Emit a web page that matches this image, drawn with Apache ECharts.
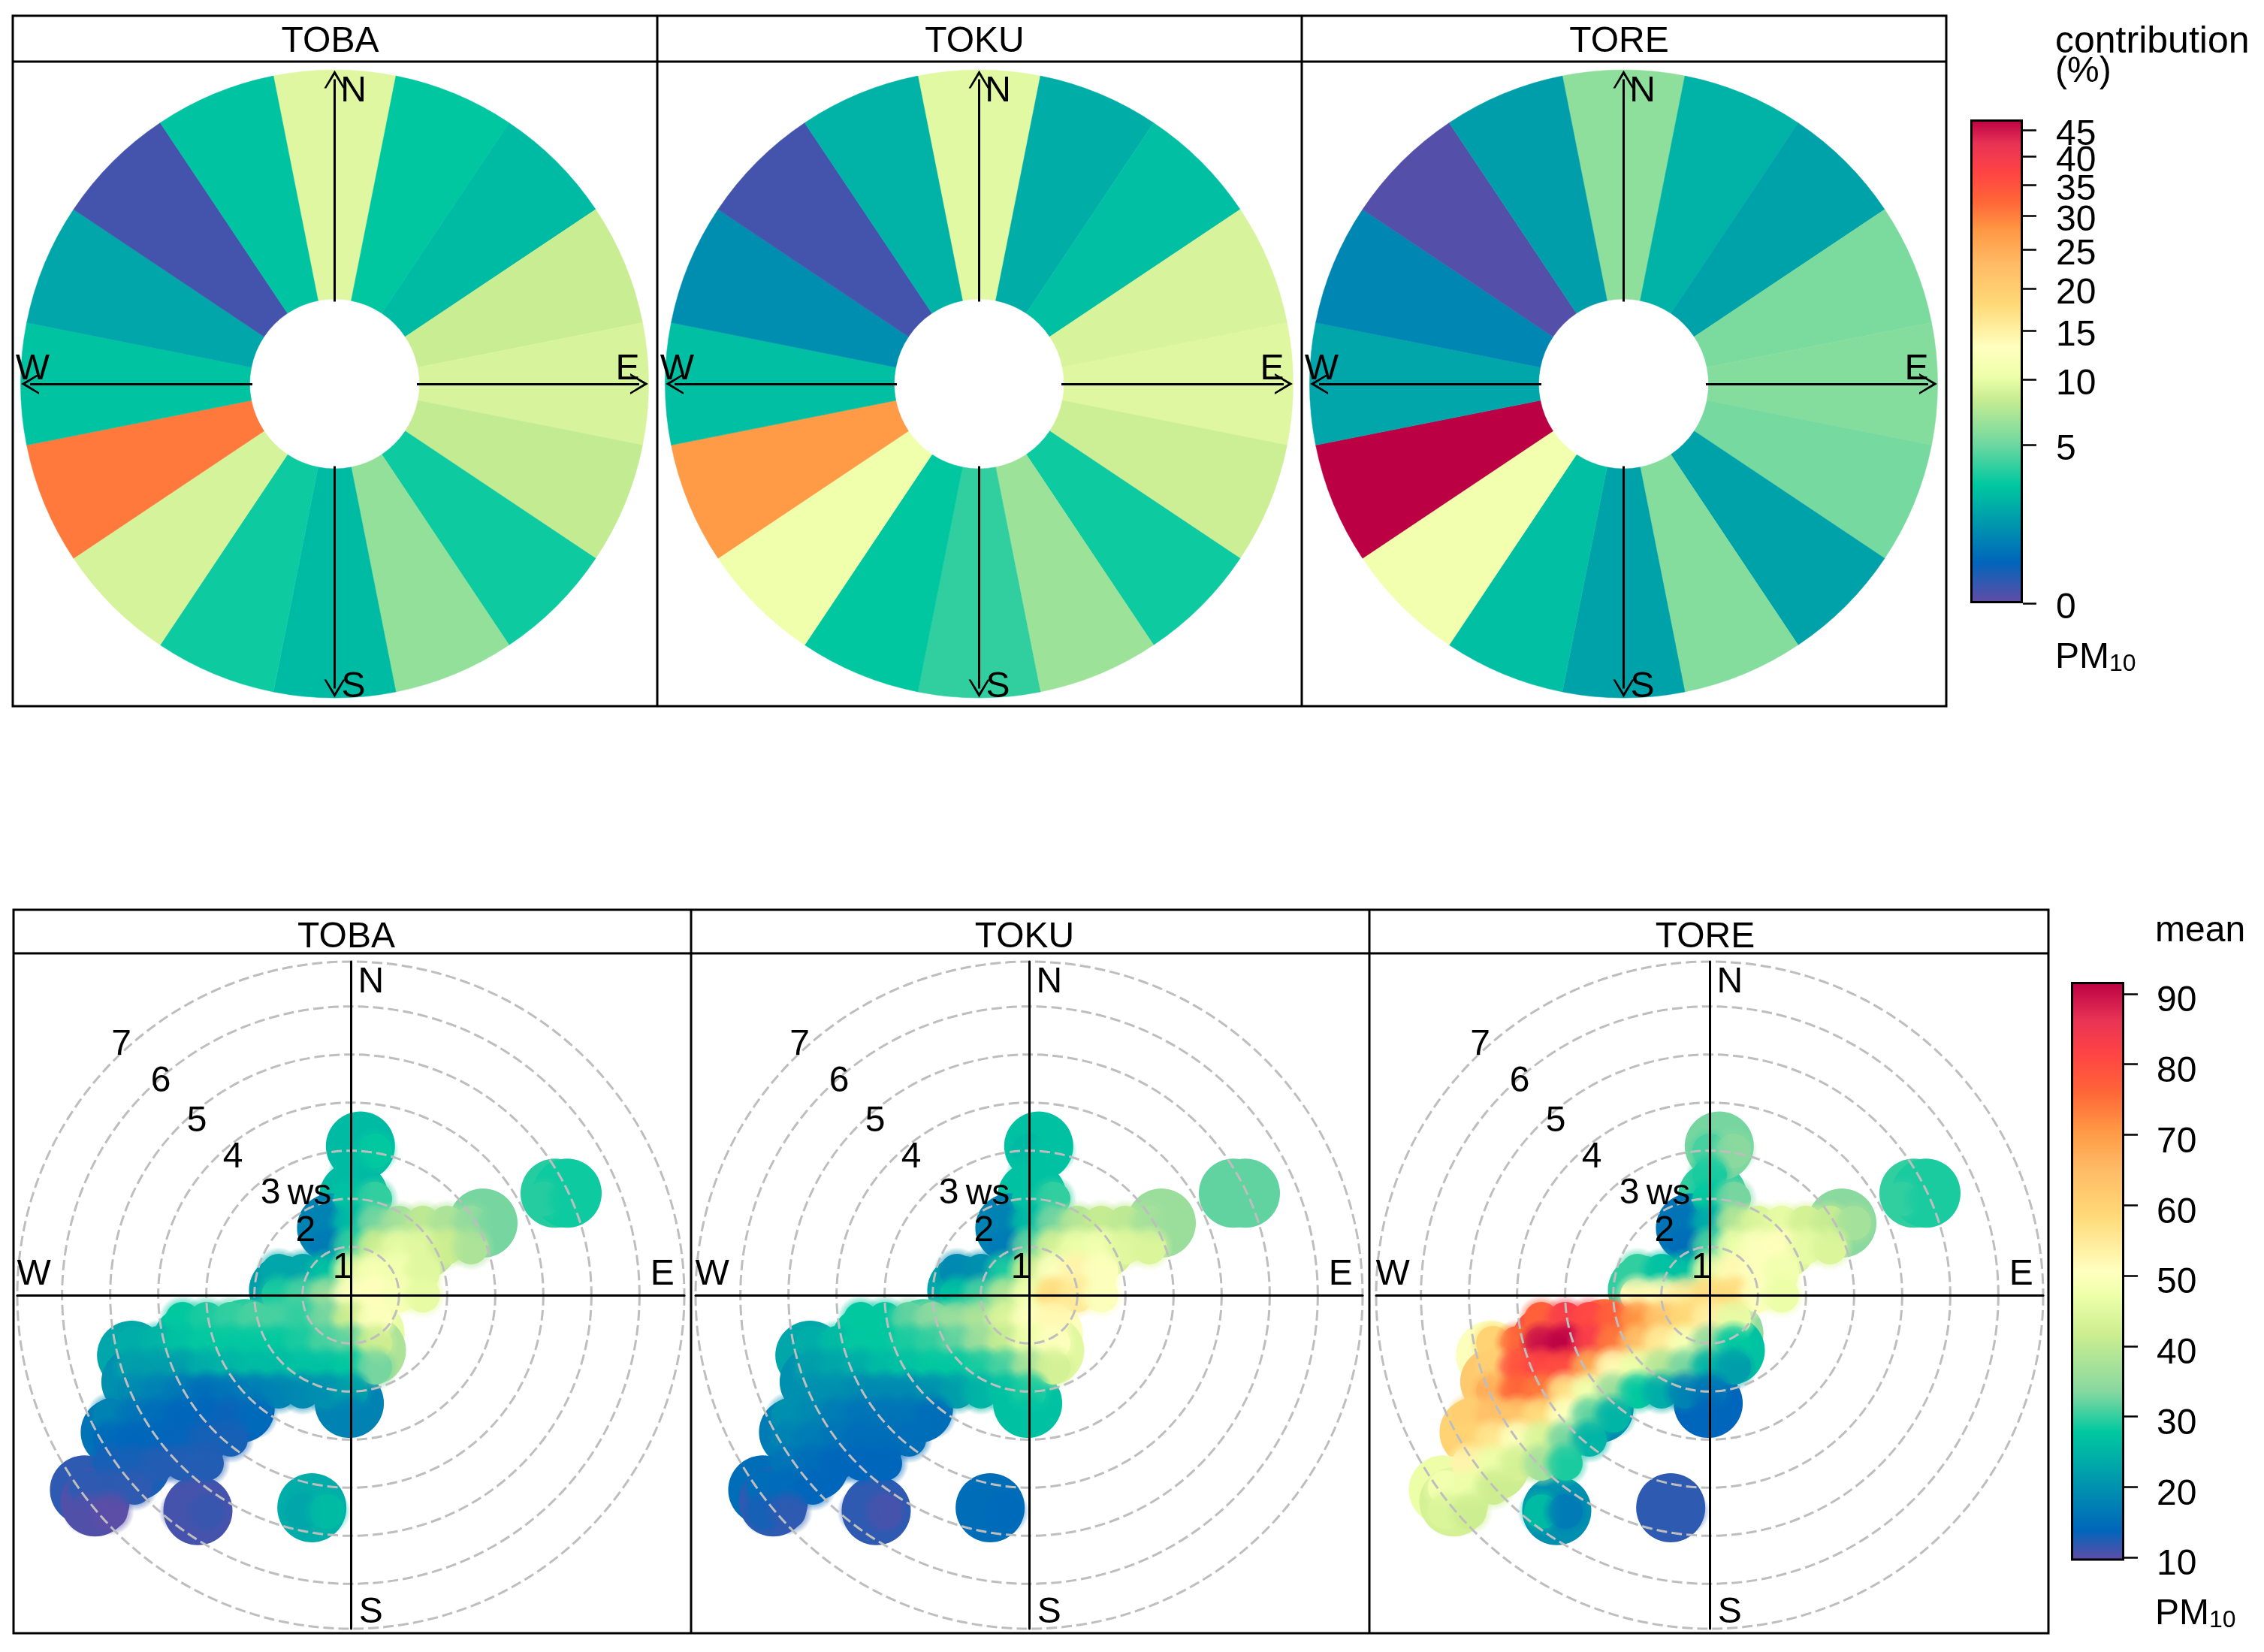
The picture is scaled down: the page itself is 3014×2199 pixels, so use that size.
<!DOCTYPE html>
<html><head><meta charset="utf-8">
<style>html,body{margin:0;padding:0;background:#fff}#c{width:3014px;height:2199px}</style>
<script src="https://cdn.jsdelivr.net/npm/echarts@6/dist/echarts.min.js"></script>
</head><body><div id="c"></div>
<script>
// ---------- data ----------
const sites = ['TOBA','TOKU','TORE'];
const directions = ['N','NNE','NE','ENE','E','ESE','SE','SSE','S','SSW','SW','WSW','W','WNW','NW','NNW'];
const contribTOBA = [9.5,3.7,3.4,8.5,9.2,8.3,3.9,6.4,3.4,3.9,9.1,30.5,3.6,2.9,0.4,3.6];
const contribTOKU = [9.7,3.1,3.5,9.2,9.5,8.7,3.9,6.8,4.3,3.7,10.5,27.5,3.5,2.3,0.4,3.2];
const contribTORE = [6.2,3.2,2.8,5.5,5.9,5.3,2.8,5.9,2.8,3.5,11,46,2.9,2.1,0.2,2.7];
const contribTicks = [0,5,10,15,20,25,30,35,40,45];
const contribTickFrac = [0,.328,.463,.564,.651,.731,.801,.865,.924,.978];
const meanTicks = [10,20,30,40,50,60,70,80,90];

// polar-plot bins [u, v] in wind-speed units (shared outline of all three panels)
const binPos = [[4.25,2.12],[4.5,2.12],[2.75,1.5],[1.5,1.05],[.06,2.05],[.2,3.1],[-.4,1.4],[-1.4,.1],[.4,.1],[1.13,.5],[.4,-.8],[.43,-1.15],[-.03,-2.25],[-3.4,-.95],[-4.56,-1.25],[-2.2,-.8],[-1.28,-.8],[-2.3,-2.35],[-3.27,-2.95],[-4.47,-3.55],[-4.9,-2.85],[-4.47,-1.8],[-5.54,-4.05],[-5.32,-4.3],[-3.18,-4.48],[-.81,-4.42]];
const binTOBA = [29.5,28.5,33,40,26,26,18,22,48,46,46,38,18,27,23,29,30,14,13.5,13,16,20,12,10.5,11,24];
const binTOKU = [32,32,36,42,27,27,18,23,50,50,50,45,27,28,23,30,33,15,15,14,17,20,15,12,12,15];
const binTORE = [30,29,34,44,30,33,16,30,55,47,35,27,14,80,50,75,60,18,28,42,60,62,47,43,20,12];

// rows of interior cells: [v, first u, values at 0.5 steps]
const rowsTOBA = [
[3,0,[26,28]],[2.5,0,[26]],[2,0,[27,30]],
[1.5,-.5,[18,26,33,37,40,38,35,33]],
[1,-.5,[17,30,42,46,45,42,38]],
[.5,-1.5,[23,23,27,45,49,48,45]],
[0,-1.5,[29,31,36,50,51,49,46]],
[-.5,-3.5,[28,29,30,31,31,30,33,42,50]],
[-1,-4.5,[24,25,27,28,28,28,28,29,31,32,42]],
[-1.5,-4.5,[22,22,22,24,25,26,26,27,27,28,33]],
[-2,-4.5,[19,18,16.5,15,16,17,18,19,20,22]],
[-2.5,-5,[18,16,15,14,14,13.5,14.5]],[-2.5,0,[18]],
[-3,-5,[14.5,14,14,13.8,13,13]],
[-3.5,-5,[13,13,12.5,12.5,12.5]],
[-4,-5.5,[12,12,12]],
[-4.5,-5.5,[10.5,10]],[-4.5,-3.5,[11,11.5]],[-4.5,-1,[23,26]],
[2,4,[29.5,28.5]]];
const rowsTOKU = [
[3,0,[26,27]],[2.5,0,[27]],[2,0,[27,30]],
[1.5,-.5,[18,26,33,39,41,40,37,36]],
[1,-.5,[17,32,43,47,48,45,44]],
[.5,-1.5,[19,20,29,42,50,53,50]],
[0,-1.5,[27,31,39,48,58,55,50]],
[-.5,-3.5,[28,28,32,34,36,38,44,50,52]],
[-1,-4.5,[24,26,28,28,29,30,32,36,41,47,50]],
[-1.5,-4.5,[22,23,24,26,27,28,28,29,31,37,43]],
[-2,-4.5,[20,20,19,19,19,20,22,25,27,29]],
[-2.5,-5,[20,19,17,16,16,16,15]],[-2.5,0,[27]],
[-3,-5,[18,17,16,15,15,15]],
[-3.5,-5,[16,15,14,14,14]],
[-4,-5.5,[15,14.5,14]],
[-4.5,-5.5,[13,12]],[-4.5,-3.5,[12,11]],[-4.5,-1,[15,14.5]],
[2,4,[32,32]]];
const rowsTORE = [
[3,0,[31,34]],[2.5,0,[29]],[2,0,[28,33]],
[1.5,-.5,[16,24,39,44,46,43,41,37]],
[1,-.5,[15,31,47,50,51,46,44]],
[.5,-1.5,[30,27,27,46,52,50,48]],
[0,-1.5,[52,52,55,58,58,50,47]],
[-.5,-3.5,[77,83,81,77,71,63,59,54,46]],
[-1,-4.5,[60,76,90,91.5,83,74,64,55,49,35,28]],
[-1.5,-4.5,[61,79,81,80,68,52,47,39,33,25,22]],
[-2,-4.5,[67,76,74,57,48,36,28,24,18,16]],
[-2.5,-5,[61,64,63,58,50,32,25]],[-2.5,0,[14]],
[-3,-5,[60,56,50,44,33,25]],
[-3.5,-5,[53,47,43,37,29]],
[-4,-5.5,[48,47,42]],
[-4.5,-5.5,[44,42]],[-4.5,-3.5,[26,17]],[-4.5,-1,[12,12]],
[2,4,[30,29]]];

const topCompass = [[.06,.93,'N'],[.06,-.967,'S'],[-.962,.047,'W'],[.933,.047,'E']];
const botCompass = [[.42,6.5,'N'],[.42,-6.61,'S'],[-6.59,.42,'W'],[6.48,.42,'E']];
const ringLabels = [[-4.77,5.2,'7'],[-3.95,4.44,'6'],[-3.2,3.61,'5'],[-2.45,2.86,'4'],[-1.67,2.11,'3'],[-.86,2.1,'ws'],[-.94,1.33,'2'],[-.17,.56,'1']];
const arrowEnds = [[.97,0],[-.97,0],[0,.97],[0,-.97]];
const arrowStart = .27;

// colour ramps: [position along bar, colour]
const topRamp = [[0,'#634BA5'],[.085,'#0066BB'],[.245,'#00C8A0'],[.33,'#70D8A0'],[.42,'#C6EC92'],[.47,'#EEFFAA'],[.53,'#FFFFBF'],[.62,'#FFD876'],[.70,'#FFBB66'],[.77,'#FF9944'],[.83,'#FF6638'],[.89,'#FF4444'],[.95,'#E83355'],[1,'#BB0044']];
const botRamp = [[0,'#634BA5'],[.052,'#0066BB'],[.222,'#00C8A0'],[.293,'#88D8A0'],[.393,'#CDEE90'],[.459,'#EEFFAA'],[.5,'#FFFFBF'],[.6,'#FFD876'],[.675,'#FFBB66'],[.742,'#FF9944'],[.809,'#FF6638'],[.875,'#FF4444'],[.934,'#E83355'],[1,'#BB0044']];

// ---------- helpers ----------
const FONT = '"Liberation Sans", Arial, sans-serif', FS = 48;
function rampColour(ramp, t){
  t = Math.max(0, Math.min(1, t));
  for (let i = 1; i < ramp.length; i++) if (t <= ramp[i][0]) {
    const [a, ca] = ramp[i-1], [b, cb] = ramp[i], k = (t-a)/(b-a);
    const p = c => [1,3,5].map(j => parseInt(c.substr(j,2),16));
    const A = p(ca), B = p(cb);
    return 'rgb(' + A.map((x,j) => Math.round(x+(B[j]-x)*k)).join(',') + ')';
  }
  return ramp[ramp.length-1][1];
}
function contribColour(v){
  for (let i = 1; i < contribTicks.length; i++) if (v <= contribTicks[i]) {
    const k = (v-contribTicks[i-1])/(contribTicks[i]-contribTicks[i-1]);
    return rampColour(topRamp, contribTickFrac[i-1]+k*(contribTickFrac[i]-contribTickFrac[i-1]));
  }
  return rampColour(topRamp, contribTickFrac[9]+(v-45)*.022);
}
const MEAN_MIN = 9.7, MEAN_MAX = 91.7;
const meanColour = v => rampColour(botRamp, (v-MEAN_MIN)/(MEAN_MAX-MEAN_MIN));
const gradient = ramp => ({type:'linear',x:0,y:1,x2:0,y2:0,colorStops:ramp.map(([o,c])=>({offset:o,color:c}))});
const soft = v => { const c = meanColour(v), a = x => c.replace('rgb','rgba').replace(')',','+x+')');
  return {type:'radial',x:.5,y:.5,r:.5,colorStops:[{offset:0,color:a(1)},{offset:.55,color:a(.75)},{offset:1,color:a(0)}]}; };

// ---------- layout ----------
const topCx = [445.5,1303.5,2161.5], topCy = 511, topR = 418, topIn = 113;
const botCx = [467,1370,2276], botCy = 1724, botR = 444, UNIT = 64;
const topBox = {xs:[17,875,1733,2591], y0:21, y1:82, y2:940};
const botBox = {xs:[18,920,1823,2727], y0:1211, y1:1269, y2:2174};
const contrib = [contribTOBA,contribTOKU,contribTORE];
const bins = [binTOBA,binTOKU,binTORE];
const rows = [rowsTOBA,rowsTOKU,rowsTORE];

const polar=[], angleAxis=[], radiusAxis=[], grid=[], xAxis=[], yAxis=[], series=[], title=[], graphic=[];
const blackText = {color:'#000',fontFamily:FONT,fontSize:FS,fontWeight:'normal'};
const arrowSym = 'path://M10 0 L20 20 L18 20 L10 5 L2 20 L0 20 Z';

sites.forEach((s,i)=>{
  polar.push({center:[topCx[i],topCy],radius:[topIn,topR]});
  angleAxis.push({polarIndex:i,type:'category',data:directions,startAngle:101.25,clockwise:true,boundaryGap:true,show:false});
  radiusAxis.push({polarIndex:i,type:'value',min:0,max:1,show:false});
  series.push({type:'bar',coordinateSystem:'polar',polarIndex:i,barWidth:'100%',barGap:'0%',silent:true,
    data:contrib[i].map((v,k)=>({name:directions[k],contribution:v,value:1,itemStyle:{color:contribColour(v),borderColor:contribColour(v),borderWidth:.5}}))});
  grid.push({left:topCx[i]-418,top:topCy-418,width:836,height:836,show:false});
  xAxis.push({gridIndex:i,type:'value',min:-1,max:1,show:false});
  yAxis.push({gridIndex:i,type:'value',min:-1,max:1,show:false});
  series.push({type:'scatter',xAxisIndex:i,yAxisIndex:i,symbolSize:1,itemStyle:{color:'rgba(0,0,0,0)',opacity:1},silent:true,z:5,
    data:topCompass,label:{show:true,position:'inside',formatter:p=>p.data[2],...blackText},
    markLine:{silent:true,symbol:['none',arrowSym],symbolSize:[28,24],label:{show:false},lineStyle:{color:'#000',width:3,type:'solid',opacity:1},
      data:arrowEnds.map(e=>[{coord:[e[0]*arrowStart,e[1]*arrowStart]},{coord:e}])}});
});
sites.forEach((s,i)=>{
  const gi = i+3, pi = i+3;
  polar.push({center:[botCx[i],botCy],radius:botR});
  angleAxis.push({polarIndex:pi,type:'value',min:0,max:360,show:false});
  radiusAxis.push({polarIndex:pi,type:'value',min:.125,max:7.0625,interval:1,z:6,
    axisLine:{show:false},axisTick:{show:false},axisLabel:{show:false},
    splitLine:{show:true,lineStyle:{color:'#BEBEBE',width:3,type:[14,6]}}});
  grid.push({left:botCx[i]-botR,top:botCy-botR,width:2*botR,height:2*botR,show:false});
  const half = botR/UNIT;
  const axis = {type:'value',min:-half,max:half,splitLine:{show:false},axisTick:{show:false},axisLabel:{show:false},z:7,
    axisLine:{show:true,onZero:true,lineStyle:{color:'#000',width:3}}};
  xAxis.push({gridIndex:gi,...axis});
  yAxis.push({gridIndex:gi,...axis});
  series.push({name:s+' bins',type:'scatter',xAxisIndex:gi,yAxisIndex:gi,symbolSize:92,silent:true,z:2,
    itemStyle:{opacity:1},
    data:binPos.map((p,k)=>({value:[p[0],p[1],bins[i][k]],itemStyle:{color:meanColour(bins[i][k]),opacity:1}}))});
  const cells=[];
  rows[i].forEach(([v,u0,vals])=>vals.forEach((val,k)=>cells.push([u0+k*.5,v,val])));
  series.push({name:s+' cells',type:'scatter',xAxisIndex:gi,yAxisIndex:gi,symbolSize:46,silent:true,z:3,
    itemStyle:{opacity:1},
    data:cells.map(c=>({value:c,itemStyle:{color:meanColour(c[2]),opacity:1}}))});
  series.push({name:s+' blend',type:'scatter',xAxisIndex:gi,yAxisIndex:gi,symbolSize:64,silent:true,z:4,
    itemStyle:{opacity:1},
    data:cells.map(c=>({value:c,itemStyle:{color:soft(c[2]),opacity:1}}))});
  series.push({type:'scatter',xAxisIndex:gi,yAxisIndex:gi,symbolSize:1,itemStyle:{color:'rgba(0,0,0,0)',opacity:1},silent:true,z:8,
    data:botCompass.concat(ringLabels),label:{show:true,position:'inside',formatter:p=>p.data[2],...blackText}});
});
sites.forEach((s,i)=>{
  title.push({text:s,left:topCx[i]-11,top:51,textAlign:'center',textVerticalAlign:'middle',textStyle:blackText});
  title.push({text:s,left:botCx[i]-11,top:1243,textAlign:'center',textVerticalAlign:'middle',textStyle:blackText});
});
const pmRich = {sub:{fontFamily:FONT,fontSize:32,color:'#000',verticalAlign:'bottom',padding:[16,0,0,0]}};
title.push({text:'contribution',left:2731,top:51,textVerticalAlign:'middle',textStyle:{...blackText,fontSize:50}});
[['(%)',2731,91],['mean',2864,1235]].forEach(([t,x,y])=>
  title.push({text:t,left:x,top:y,textVerticalAlign:'middle',textStyle:blackText}));
[[2731,871],[2864,2144]].forEach(([x,y])=>
  title.push({text:'PM{sub|10}',left:x,top:y,textVerticalAlign:'middle',textStyle:{...blackText,rich:pmRich}}));

// colour bars
grid.push({left:2623,top:159,width:70,height:644,show:false});
xAxis.push({gridIndex:6,type:'category',data:['contribution'],show:false});
// the contribution labels sit closer than their own height, so two axes carry alternate labels
const contribLabel = values => ({show:true,margin:44,showMinLabel:true,showMaxLabel:true,verticalAlign:'top',lineHeight:14,
  customValues:values,formatter:v=>contribTicks[contribTickFrac.indexOf(v)],...blackText});
yAxis.push({gridIndex:6,type:'value',min:0,max:1,position:'right',splitLine:{show:false},axisLine:{show:false},
  axisTick:{show:true,length:18,customValues:contribTickFrac,lineStyle:{color:'#000',width:2.5}},
  axisLabel:contribLabel(contribTickFrac.filter((_,k)=>k%2===0))});
series.push({type:'bar',xAxisIndex:6,yAxisIndex:6,barWidth:'100%',silent:true,data:[1],
  itemStyle:{color:gradient(topRamp),borderColor:'#000',borderWidth:3}});
grid.push({left:2757,top:1307,width:71,height:769,show:false});
xAxis.push({gridIndex:7,type:'category',data:['mean'],show:false});
yAxis.push({gridIndex:7,type:'value',min:MEAN_MIN,max:MEAN_MAX,position:'right',splitLine:{show:false},axisLine:{show:false},
  axisTick:{show:true,length:18,customValues:meanTicks,lineStyle:{color:'#000',width:2.5}},
  axisLabel:{show:true,margin:43,showMinLabel:true,showMaxLabel:true,verticalAlign:'top',lineHeight:20,customValues:meanTicks,...blackText}});
series.push({type:'bar',xAxisIndex:7,yAxisIndex:7,barWidth:'100%',silent:true,data:[MEAN_MAX],
  itemStyle:{color:gradient(botRamp),borderColor:'#000',borderWidth:3}});
yAxis.push({gridIndex:6,type:'value',min:0,max:1,position:'right',offset:0,splitLine:{show:false},axisLine:{show:false},axisTick:{show:false},
  axisLabel:contribLabel(contribTickFrac.filter((_,k)=>k%2===1))});

// panel frames
[topBox,botBox].forEach(b=>{
  graphic.push({type:'rect',silent:true,z:20,shape:{x:b.xs[0],y:b.y0,width:b.xs[3]-b.xs[0],height:b.y2-b.y0},style:{fill:'none',stroke:'#000',lineWidth:3}});
  graphic.push({type:'line',silent:true,z:20,shape:{x1:b.xs[0],y1:b.y1,x2:b.xs[3],y2:b.y1},style:{stroke:'#000',lineWidth:3}});
  [1,2].forEach(k=>graphic.push({type:'line',silent:true,z:20,shape:{x1:b.xs[k],y1:b.y0,x2:b.xs[k],y2:b.y2},style:{stroke:'#000',lineWidth:3}}));
});

const chart = echarts.init(document.getElementById('c'),null,{renderer:'canvas',width:3014,height:2199});
chart.setOption({animation:false,backgroundColor:'#fff',tooltip:{show:false},legend:{show:false},
  title,polar,angleAxis,radiusAxis,grid,xAxis,yAxis,series,graphic});
</script></body></html>
